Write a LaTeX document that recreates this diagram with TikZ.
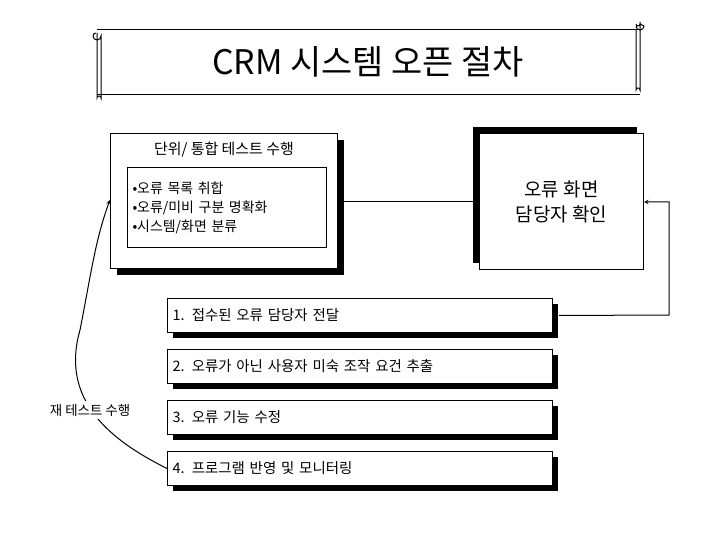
\documentclass[tikz,border=0pt]{standalone}
\usepackage{fontspec}
\setmainfont{Noto Sans CJK KR}
\usetikzlibrary{positioning}
\tikzset{
  box/.style={draw,fill=white,inner sep=0pt,anchor=north west},
  stepbox/.style={box,minimum width=385bp,minimum height=34bp,font=\fontsize{14.5}{16}\selectfont,text width=375bp,align=left},
  shade/.style={fill=black}
}
\begin{document}
\begin{tikzpicture}[x=1bp,y=-1bp,line width=1bp]
\useasboundingbox (0,0) rectangle (720,540);
% title scroll
\draw (97,30) -- (640,30);
\draw (97,95) -- (640,95);
\draw (97,33) -- (97,98) arc (180:360:2 and 2) -- (101,36) arc (0:180:4) ;
\draw (93,36) arc (180:270:3);
\draw (640,22) -- (640,90) arc (0:-180:2 and 2) -- (636,30);
\draw (636,24) arc (180:0:2) -- (644,26) arc (0:180:4);
\node (title) at (368,62) {\fontsize{34}{38}\selectfont CRM 시스템 오픈 절차};
% test box
\fill[shade] (117,140) rectangle (344,275);
\node[box,minimum width=227bp,minimum height=135bp] (test) at (110,133) {};
\node[font=\fontsize{15}{17}\selectfont] (testhd) at (224,150) {단위/ 통합 테스트 수행};
\node[box,minimum width=199bp,minimum height=80bp,text width=195bp,align=left,
  font=\fontsize{14}{19}\selectfont] (list) at (127,167)
  {\hspace*{3bp}•오류 목록 취합\\\hspace*{3bp}•오류/미비 구분 명확화\\\hspace*{3bp}•시스템/화면 분류};
% error screen box
\fill[shade] (473,127) rectangle (637,263);
\node[box,minimum width=164bp,minimum height=136bp,align=center,
  font=\fontsize{19}{25}\selectfont] (err) at (479,133) {오류 화면\\담당자 확인};
% steps
\foreach \i/\t in {1/1. 접수된 오류 담당자 전달,2/2. 오류가 아닌 사용자 미숙 조작 요건 추출,3/3. 오류 기능 수정,4/4. 프로그램 반영 및 모니터링}{
  \fill[shade] (173,298+51*\i-51+6) rectangle (558,298+51*\i-51+40);
  \node[stepbox] (s\i) at (167,298+51*\i-51) {\t};
}
% connectors
\coordinate (turn1) at (669,315);
\coordinate (turn2) at (669,202);
\draw (test.east |- err.west) -- (err.west);
\draw[-stealth] (s1.east) ++(6,0) -- (turn1) -- (turn2) -- (err.east |- turn2);
\coordinate (tip) at (110,200);
\draw[-stealth] (s4.west) .. controls (110,440) and (60,400) .. (80,330) .. controls (90,280) and (95,240) .. (tip);
\node[fill=white,font=\fontsize{13.5}{15}\selectfont] (retest) at (90,410) {재 테스트 수행};
\end{tikzpicture}
\end{document}
